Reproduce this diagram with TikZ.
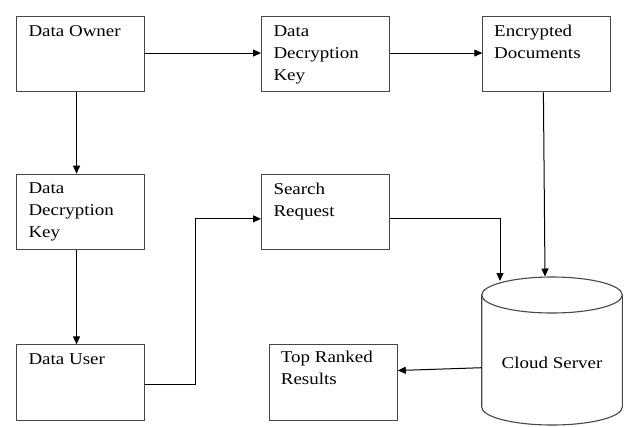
\documentclass[tikz,border=0pt]{standalone}
\usepackage{fontspec}
\setmainfont{Liberation Serif}[FakeStretch=1.15]
\usetikzlibrary{arrows.meta}
\begin{document}
\begin{tikzpicture}[x=1pt,y=-1pt,
  boxnode/.style={draw=black!72, line width=1.1pt, inner sep=0pt, anchor=north west,
    minimum width=128pt, minimum height=75.6pt},
  txt/.style={anchor=north west, inner sep=0pt, align=left,
    font=\fontsize{16.5}{21.9}\selectfont},
  arr/.style={line width=1pt, -{Triangle[length=8pt,width=7pt]}},
  ln/.style={line width=1pt}]
\useasboundingbox (0,0) rectangle (628,426);
% boxes
\node[boxnode] (owner) at (15.7,15.7) {};
\node[boxnode] (key1) at (261,15.7) {};
\node[boxnode] (enc) at (482.3,15.7) {};
\node[boxnode] (key2) at (15.7,173.7) {};
\node[boxnode] (search) at (261,173.7) {};
\node[boxnode] (user) at (15.7,344.3) {};
\node[boxnode] (top) at (268.7,344.3) {};
% texts
\node[txt] (ownert) at (28.3,25.5) {Data Owner};
\node[txt] (key1t) at (273.3,25.5) {Data\\Decryption\\Key};
\node[txt] (enct) at (494,24.5) {Encrypted\\Documents};
\node[txt] (key2t) at (28.3,182.5) {Data\\Decryption\\Key};
\node[txt] (searcht) at (273.3,182.5) {Search\\Request};
\node[txt] (usert) at (28.3,353.5) {Data User};
\node[txt] (topt) at (280.7,351) {Top Ranked\\Results};
% cylinder
\draw[draw=black!72, line width=1.1pt] (481.7,295) -- (481.7,407)
  arc[start angle=180, end angle=360, x radius=70.3, y radius=-18] -- (622.3,295);
\draw[draw=black!72, line width=1.1pt] (552,295) ellipse[x radius=70.3, y radius=18];
\node[font=\fontsize{16.5}{21.9}\selectfont, inner sep=0pt] (cloud) at (552,362.7) {Cloud Server};
\coordinate (cin1) at (500,281);
\coordinate (cin2) at (545,276.5);
\coordinate (cout) at (481.7,367.7);
% connectors
\draw[arr] ([yshift=1pt]owner.east) -- ([yshift=1pt]key1.west);
\draw[arr] ([yshift=1pt]key1.east) -- ([yshift=1pt]enc.west);
\draw[arr] ([xshift=-3.7pt]owner.south) -- ([xshift=-3.7pt]key2.north);
\draw[arr] ([xshift=-3.7pt]key2.south) -- ([xshift=-3.7pt]user.north);
\draw[arr] ([yshift=-1.85pt]user.east) -| ([xshift=-65.3pt,yshift=-6.8pt]search.west) -- ([yshift=-6.8pt]search.west);
\draw[arr] ([yshift=-6.8pt]search.east) -| (cin1);
\draw[arr] ([xshift=-3.45pt]enc.south) -- (cin2);
\draw[arr] (cout) -- ([yshift=12.15pt]top.east);
\end{tikzpicture}
\end{document}
